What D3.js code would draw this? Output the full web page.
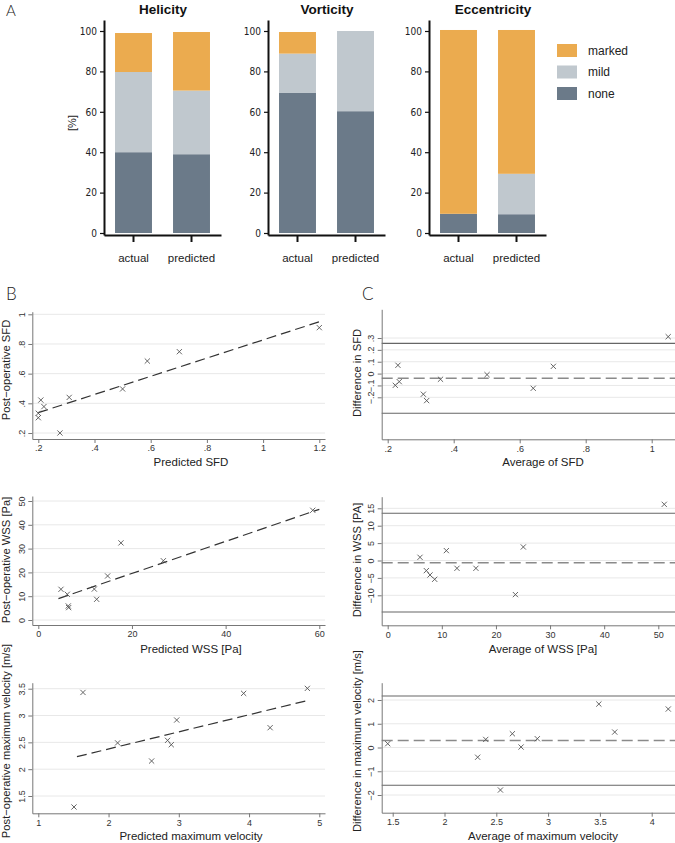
<!DOCTYPE html>
<html><head><meta charset="utf-8">
<script src="https://cdn.jsdelivr.net/npm/d3@7"></script>
<style>
body{margin:0;background:#fff;}
svg{display:block;font-family:"Liberation Sans",Arial,Helvetica,sans-serif;}
</style></head><body>
<svg id="chart" width="675" height="843"></svg>
<script>
// ================= DATA =================
// Panel A: stacked percentages
const groups = ["actual", "predicted"];
const severityStack = ["none", "mild", "marked"];
const legendOrder = ["marked", "mild", "none"];
const panelATitles = ["Helicity", "Vorticity", "Eccentricity"];
const helicityNone = [40, 39];
const helicityMild = [39.7, 31.5];
const helicityMarked = [19.3, 29];
const vorticityNone = [69.5, 60.3];
const vorticityMild = [19.3, 39.7];
const vorticityMarked = [10.7, 0];
const eccentricityNone = [9.5, 9.3];
const eccentricityMild = [0, 20];
const eccentricityMarked = [91, 71.2];
const percentTicks = [0, 20, 40, 60, 80, 100];

// Panel B/C: SFD
const sfdPredicted = [0.2, 0.2, 0.209, 0.22, 0.277, 0.31, 0.5, 0.588, 0.702, 1.2];
const sfdPost = [0.333, 0.303, 0.422, 0.378, 0.2, 0.44, 0.497, 0.685, 0.748, 0.91];
const sfdFitX = [0.2, 1.2];
const sfdFitY = [0.337, 0.95];
const sfdAverage = [0.223, 0.231, 0.235, 0.308, 0.318, 0.36, 0.501, 0.641, 0.702, 1.05];
const sfdDifference = [-0.099, 0.07, -0.068, -0.174, -0.228, -0.048, -0.009, -0.124, 0.061, 0.311];
const sfdBA = [-0.04, 0.255, -0.335]; // mean, upper, lower
const sfdXTicks = [0.2, 0.4, 0.6, 0.8, 1, 1.2];
const sfdXLabels = [".2", ".4", ".6", ".8", "1", "1.2"];
const sfdYTicks = [0.2, 0.4, 0.6, 0.8, 1];
const sfdYLabels = [".2", ".4", ".6", ".8", "1"];
const sfdBaXTicks = [0.2, 0.4, 0.6, 0.8, 1];
const sfdBaXLabels = [".2", ".4", ".6", ".8", "1"];
const sfdBaYTicks = [-0.2, -0.1, 0, 0.1, 0.2, 0.3];
const sfdBaYLabels = ["\u2212.2", "\u2212.1", "0", ".1", ".2", ".3"];

// WSS
const wssPredicted = [4.84, 6.19, 6.4, 6.48, 11.96, 12.46, 14.8, 17.65, 26.7, 58.6];
const wssPost = [12.9, 10.8, 5.9, 5.2, 13.0, 8.7, 18.5, 32.4, 24.9, 46.1];
const wssFitX = [4.3, 60];
const wssFitY = [9.0, 46.5];
const wssAverage = [5.97, 7.14, 7.82, 8.68, 10.84, 12.8, 16.3, 23.6, 25.06, 51.1];
const wssDifference = [0.92, -2.91, -4.16, -5.4, 2.84, -2.24, -2.24, -9.8, 3.89, 16.14];
const wssBA = [-0.63, 13.56, -14.8];
const wssXTicks = [0, 20, 40, 60];
const wssXLabels = ["0", "20", "40", "60"];
const wssYTicks = [0, 10, 20, 30, 40, 50];
const wssYLabels = ["0", "10", "20", "30", "40", "50"];
const wssBaXTicks = [0, 10, 20, 30, 40, 50];
const wssBaXLabels = ["0", "10", "20", "30", "40", "50"];
const wssBaYTicks = [-10, -5, 0, 5, 10, 15];
const wssBaYLabels = ["\u221210", "\u22125", "0", "5", "10", "15"];

// Maximum velocity
const velPredicted = [1.508, 1.636, 2.129, 2.613, 2.84, 2.893, 2.97, 3.923, 4.30, 4.83];
const velPost = [1.295, 3.43, 2.49, 2.152, 2.537, 2.456, 2.916, 3.413, 2.773, 3.506];
const velFitX = [1.55, 4.82];
const velFitY = [2.233, 3.276];
const velAverage = [1.452, 2.32, 2.398, 2.54, 2.655, 2.739, 2.896, 3.49, 3.643, 4.16];
const velDifference = [0.16, -0.41, 0.34, -1.79, 0.58, 0.02, 0.37, 1.83, 0.65, 1.62];
const velBA = [0.30, 2.17, -1.59];
const velXTicks = [1, 2, 3, 4, 5];
const velXLabels = ["1", "2", "3", "4", "5"];
const velYTicks = [1.5, 2, 2.5, 3, 3.5];
const velYLabels = ["1.5", "2", "2.5", "3", "3.5"];
const velBaXTicks = [1.5, 2, 2.5, 3, 3.5, 4];
const velBaXLabels = ["1.5", "2", "2.5", "3", "3.5", "4"];
const velBaYTicks = [-2, -1, 0, 1, 2];
const velBaYLabels = ["\u22122", "\u22121", "0", "1", "2"];

// ================= DRAW =================
const svg = d3.select("#chart");
const colors = { marked: "#ebab4f", mild: "#c0c8ce", none: "#6b7a89" };
const narrow = "'Liberation Sans Narrow','Arial Narrow','DejaVu Sans Condensed',sans-serif";

// panel letters
[["A", 6, 16, 15], ["B", 6, 300, 17], ["C", 362, 300, 17]].forEach(([t, x, y, fs]) => {
  svg.append("text").attr("x", x).attr("y", y).text(t)
    .attr("font-family", "Lato,'Open Sans',sans-serif").attr("font-weight", 300)
    .attr("font-size", fs).attr("fill", "#222");
});

// ---- Panel A ----
const panelAData = [
  [helicityNone, helicityMild, helicityMarked],
  [vorticityNone, vorticityMild, vorticityMarked],
  [eccentricityNone, eccentricityMild, eccentricityMarked]
];
const panelAX = [104, 268, 429];
const panelATitleX = [163, 327, 493];
const yA = d3.scaleLinear().domain([0, 100]).range([233, 31]);
const yAaxisScale = d3.scaleLinear().domain([yA.invert(235), yA.invert(20)]).range([235, 20]);

panelAData.forEach((arrs, pi) => {
  const g = svg.append("g");
  const x = d3.scaleBand().domain(groups).range([panelAX[pi], panelAX[pi] + 117])
    .paddingInner(0.363).paddingOuter(0.19);
  const rows = groups.map((grp, i) => {
    const o = { group: grp };
    severityStack.forEach((k, j) => o[k] = arrs[j][i]);
    return o;
  });
  const stacked = d3.stack().keys(severityStack)(rows);
  g.selectAll("g.layer").data(stacked).join("g")
    .attr("fill", d => colors[d.key])
    .selectAll("rect").data(d => d).join("rect")
    .attr("x", d => x(d.data.group))
    .attr("width", x.bandwidth())
    .attr("y", d => yA(d[1]))
    .attr("height", d => Math.max(0, yA(d[0]) - yA(d[1])));

  const ya = g.append("g").attr("transform", `translate(${panelAX[pi]},0)`)
    .call(d3.axisLeft(yAaxisScale).tickValues(percentTicks).tickSize(4).tickPadding(3).tickSizeOuter(0));
  ya.select(".domain").attr("stroke", "#111").attr("stroke-width", 2);
  ya.selectAll(".tick line").attr("stroke", "#111").attr("stroke-width", 1.2);
  ya.selectAll(".tick text").attr("font-family", narrow).attr("font-size", 10).attr("fill", "#222");

  const xa = g.append("g").attr("transform", "translate(0,235)")
    .call(d3.axisBottom(x).tickSize(7).tickPadding(12).tickSizeOuter(0));
  xa.select(".domain").attr("stroke", "#111").attr("stroke-width", 2);
  xa.selectAll(".tick line").attr("stroke", "#111").attr("stroke-width", 2);
  xa.selectAll(".tick text").attr("font-size", 11.5).attr("fill", "#222")
    .attr("font-family", "'Liberation Sans',Arial,sans-serif");

  svg.append("text").attr("x", panelATitleX[pi]).attr("y", 14).attr("text-anchor", "middle")
    .attr("font-weight", "bold").attr("font-size", 13.5).attr("fill", "#111").text(panelATitles[pi]);
});
svg.append("text").attr("transform", "translate(76,123) rotate(-90)").attr("text-anchor", "middle")
  .attr("font-size", 11).attr("fill", "#222").text("[%]");

// legend
const leg = svg.append("g");
legendOrder.forEach((k, i) => {
  leg.append("rect").attr("x", 557).attr("y", 44 + i * 21.5).attr("width", 20).attr("height", 13).attr("fill", colors[k]);
  leg.append("text").attr("x", 588).attr("y", 55 + i * 21.3).attr("font-size", 12).attr("fill", "#222").text(k);
});

// ---- Panels B & C ----
function calScale(v0, p0, v1, p1, e0, e1) {
  const s = d3.scaleLinear().domain([v0, v1]).range([p0, p1]);
  return d3.scaleLinear().domain([s.invert(e0), s.invert(e1)]).range([e0, e1]);
}

function scatterPanel(c) {
  const g = svg.append("g");
  const x = calScale(c.xTicks[0], c.xCal[0], c.xTicks[c.xTicks.length - 1], c.xCal[1], c.xExt[0], c.xExt[1]);
  const y = calScale(c.yTicks[0], c.yCal[0], c.yTicks[c.yTicks.length - 1], c.yCal[1], c.yExt[0], c.yExt[1]);

  g.selectAll("line.grid").data(c.yTicks).join("line").attr("class", "grid")
    .attr("x1", c.xExt[0]).attr("x2", c.xExt[1])
    .attr("y1", d => y(d)).attr("y2", d => y(d))
    .attr("stroke", "#e8e8e8").attr("stroke-width", 1);

  if (c.fitX) {
    g.append("line")
      .attr("x1", x(c.fitX[0])).attr("y1", y(c.fitY[0]))
      .attr("x2", x(c.fitX[1])).attr("y2", y(c.fitY[1]))
      .attr("stroke", "#333").attr("stroke-width", 1.2).attr("stroke-dasharray", "10,5");
  }
  if (c.ba) {
    g.selectAll("line.ba").data(c.ba).join("line").attr("class", "ba")
      .attr("x1", c.xExt[0]).attr("x2", c.xExt[1])
      .attr("y1", d => y(d)).attr("y2", d => y(d))
      .attr("stroke", (d, i) => i === 0 ? "#8a8a8a" : "#666")
      .attr("stroke-width", (d, i) => i === 0 ? 1.5 : 1.1)
      .attr("stroke-dasharray", (d, i) => i === 0 ? "11,5" : null);
  }

  const pts = c.xs.map((v, i) => [v, c.ys[i]]);
  const r = 2.6;
  g.selectAll("path.pt").data(pts).join("path").attr("class", "pt")
    .attr("d", d => {
      const px = x(d[0]), py = y(d[1]);
      return `M${px - r},${py - r}L${px + r},${py + r}M${px - r},${py + r}L${px + r},${py - r}`;
    })
    .attr("stroke", "#555").attr("stroke-width", 0.9).attr("fill", "none");

  const xa = g.append("g").attr("transform", `translate(0,${c.yExt[0]})`)
    .call(d3.axisBottom(x).tickValues(c.xTicks).tickFormat((d, i) => c.xLabels[i])
      .tickSize(4).tickPadding(2).tickSizeOuter(0));
  xa.select(".domain").attr("stroke", "#777");
  xa.selectAll(".tick line").attr("stroke", "#777");
  xa.selectAll(".tick text").attr("font-size", 9).attr("fill", "#333");

  const ya = g.append("g").attr("transform", `translate(${c.xExt[0]},0)`)
    .call(d3.axisLeft(y).tickValues(c.yTicks).tickFormat((d, i) => c.yLabels[i])
      .tickSize(4).tickSizeOuter(0));
  ya.select(".domain").attr("stroke", "#777");
  ya.selectAll(".tick line").attr("stroke", "#777");
  ya.selectAll(".tick text").attr("font-size", 9).attr("fill", "#333")
    .attr("x", null).attr("dy", null).attr("text-anchor", "middle")
    .attr("transform", "translate(-7.5,0) rotate(-90)");

  g.append("text").attr("x", c.xTitlePos[0]).attr("y", c.xTitlePos[1]).attr("text-anchor", "middle")
    .attr("font-size", 11.5).attr("fill", "#222").text(c.xTitle);
  g.append("text").attr("transform", `translate(${c.yTitlePos[0]},${c.yTitlePos[1]}) rotate(-90)`)
    .attr("text-anchor", "middle").attr("font-size", 11.2).attr("fill", "#222").text(c.yTitle);
}

// B column
scatterPanel({ xs: sfdPredicted, ys: sfdPost, fitX: sfdFitX, fitY: sfdFitY,
  xTicks: sfdXTicks, xLabels: sfdXLabels, yTicks: sfdYTicks, yLabels: sfdYLabels,
  xCal: [38.3, 319.3], xExt: [32.3, 325], yCal: [433, 314.3], yExt: [439, 311.7],
  xTitle: "Predicted SFD", xTitlePos: [191, 466], yTitle: "Post\u2212operative SFD", yTitlePos: [10, 370] });
scatterPanel({ xs: wssPredicted, ys: wssPost, fitX: wssFitX, fitY: wssFitY,
  xTicks: wssXTicks, xLabels: wssXLabels, yTicks: wssYTicks, yLabels: wssYLabels,
  xCal: [38.3, 319.3], xExt: [32.3, 325], yCal: [620, 501], yExt: [625, 496],
  xTitle: "Predicted WSS [Pa]", xTitlePos: [191, 653], yTitle: "Post\u2212operative WSS [Pa]", yTitlePos: [10, 560] });
scatterPanel({ xs: velPredicted, ys: velPost, fitX: velFitX, fitY: velFitY,
  xTicks: velXTicks, xLabels: velXLabels, yTicks: velYTicks, yLabels: velYLabels,
  xCal: [38.3, 319.3], xExt: [32.3, 325], yCal: [796, 688.7], yExt: [813.3, 682.7],
  xTitle: "Predicted maximum velocity", xTitlePos: [191, 840], yTitle: "Post\u2212operative maximum velocity [m/s]", yTitlePos: [10, 741] });

// C column
scatterPanel({ xs: sfdAverage, ys: sfdDifference, ba: sfdBA,
  xTicks: sfdBaXTicks, xLabels: sfdBaXLabels, yTicks: sfdBaYTicks, yLabels: sfdBaYLabels,
  xCal: [387.7, 651.7], xExt: [381.7, 675], yCal: [397.3, 338], yExt: [439.3, 309.3],
  xTitle: "Average of SFD", xTitlePos: [543, 466], yTitle: "Difference in SFD", yTitlePos: [361, 373] });
scatterPanel({ xs: wssAverage, ys: wssDifference, ba: wssBA,
  xTicks: wssBaXTicks, xLabels: wssBaXLabels, yTicks: wssBaYTicks, yLabels: wssBaYLabels,
  xCal: [387.7, 658.3], xExt: [381.7, 675], yCal: [595.3, 508.3], yExt: [625.3, 496.7],
  xTitle: "Average of WSS [Pa]", xTitlePos: [543, 653], yTitle: "Difference in WSS [PA]", yTitlePos: [361, 560] });
scatterPanel({ xs: velAverage, ys: velDifference, ba: velBA,
  xTicks: velBaXTicks, xLabels: velBaXLabels, yTicks: velBaYTicks, yLabels: velBaYLabels,
  xCal: [392.7, 651.7], xExt: [381.7, 675], yCal: [795, 700], yExt: [812.7, 682.7],
  xTitle: "Average of maximum velocity", xTitlePos: [543, 840], yTitle: "Difference in maximum velocity [m/s]", yTitlePos: [361, 741] });
</script>
</body></html>
